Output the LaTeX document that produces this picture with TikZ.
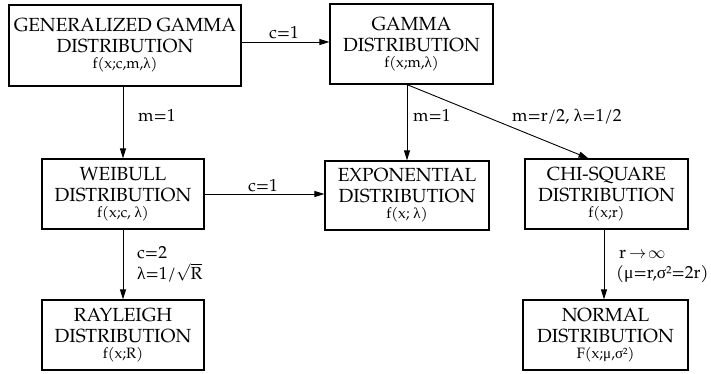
\documentclass[tikz,border=0pt]{standalone}
\usepackage{fontspec}
\setmainfont{texgyrepagella-regular.otf}
\newfontfamily\gk{Liberation Serif}
\usetikzlibrary{arrows.meta}
\newcommand\subln[1]{{\fontsize{15}{16}\selectfont #1}}
\begin{document}
\begin{tikzpicture}[x=1pt,y=-1pt,
  dbox/.style={draw,line width=1.2pt,inner sep=0pt,align=center,
               font=\fontsize{19}{21}\selectfont},
  conn/.style={line width=0.9pt,-{Triangle[length=10pt,width=6pt]}},
  lab/.style={inner sep=0pt,font=\fontsize{17.5}{20}\selectfont}]
\useasboundingbox (0,0) rectangle (711,374);

% boxes
\node[dbox,minimum width=232pt,minimum height=81pt] (gg) at (125,45.5)
  {GENERALIZED GAMMA\\DISTRIBUTION\\[-5pt]\subln{f(x;c,m,{\gk λ})}};
\node[dbox,minimum width=163pt,minimum height=80pt] (gam) at (411.5,44)
  {GAMMA\\DISTRIBUTION\\[-5pt]\subln{f(x;m,{\gk λ})}};
\node[dbox,minimum width=162pt,minimum height=70pt] (weib) at (123,194)
  {WEIBULL\\DISTRIBUTION\\[-5pt]\subln{f(x;c, {\gk λ})}};
\node[dbox,minimum width=164pt,minimum height=69pt] (expo) at (407,195.5)
  {EXPONENTIAL\\DISTRIBUTION\\[-5pt]\subln{f(x; {\gk λ})}};
\node[dbox,minimum width=163pt,minimum height=70pt] (chi) at (606.5,194)
  {CHI-SQUARE\\DISTRIBUTION\\[-5pt]\subln{f(x;r)}};
\node[dbox,minimum width=162pt,minimum height=70pt] (ray) at (123,335)
  {RAYLEIGH\\DISTRIBUTION\\[-5pt]\subln{f(x;R)}};
\node[dbox,minimum width=165pt,minimum height=70pt] (norm) at (605.5,335)
  {NORMAL\\DISTRIBUTION\\[-5pt]\subln{F(x;{\gk μ},{\gk σ}²)}};

% connectors
\coordinate (gs) at (expo.north |- gam.south);
\coordinate (chin) at ([xshift=-18pt]chi.north);
\draw[conn] (gg.east |- 0,42) -- (gam.west |- 0,42);
\draw[conn] (weib.north |- gg.south) -- (weib.north);
\draw[conn] (gs) -- (expo.north);
\draw[conn] (gs) -- (chin);
\draw[conn] (weib.east |- 0,194) -- (expo.west |- 0,194);
\draw[conn] (weib.south) -- (ray.north);
\draw[conn] (chi.south -| 604,0) -- (norm.north -| 604,0);

% labels
\node[lab,anchor=base] (l1) at (284,38.5) {c=1};
\node[lab,anchor=base west] (l2) at (138,122) {m=1};
\node[lab,anchor=base west] (l3) at (413,122) {m=1};
\node[lab,anchor=base west] (l4) at (512,122) {m=r/2, {\gk λ}=1/2};
\node[lab,anchor=base] (l5) at (263,191) {c=1};
\node[lab,anchor=base west] (l6) at (137,258) {c=2};
\node[lab,anchor=base west] (l7) at (137,279) {{\gk λ}=1/$\sqrt{\hbox{R}}$};
\node[lab,anchor=base west] (l8) at (619,258) {r\,$\rightarrow\!\infty$};
\node[lab,anchor=base west] (l9) at (616,278) {({\gk μ}=r,{\gk σ}²=2r)};
\end{tikzpicture}
\end{document}
